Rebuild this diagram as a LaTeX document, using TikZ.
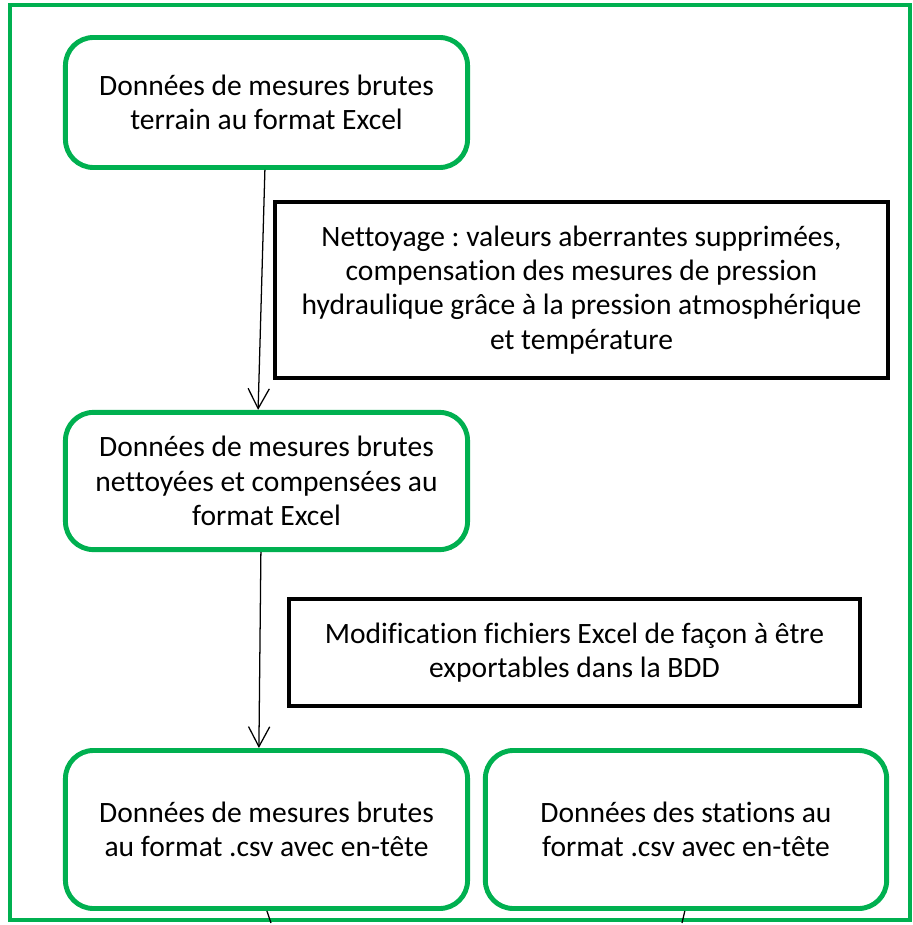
\documentclass[tikz,border=0pt]{standalone}
\usepackage{fontspec}
\setmainfont{Carlito}[Ligatures={NoCommon}]
\frenchspacing
\usetikzlibrary{arrows.meta}
\definecolor{officegreen}{RGB}{0,176,80}

\begin{document}
\begin{tikzpicture}[x=0.025cm,y=-0.025cm,
  every node/.style={font=\fontsize{21}{24.3}\selectfont,align=center},
  databox/.style={draw=officegreen,line width=3.5pt,rounded corners=0.7cm,inner sep=0pt,minimum width=10.05cm},
  notebox/.style={draw=black,line width=2.8pt,inner sep=0pt},
  flow/.style={-{Straight Barb[length=0.5cm,width=0.53cm]},line width=0.9pt}]
                \useasboundingbox (0,0) rectangle (912,925);
                \draw[officegreen,line width=2.8pt] (10,5) rectangle (910,920);
                % data boxes
                \node[databox,minimum height=3.25cm] (raw) at (266.5,102.5)
                    {Données de mesures brutes\\terrain au format Excel};
                \node[databox,minimum height=3.43cm] (clean) at (266.5,481)
                    {Données de mesures brutes\\nettoyées et compensées au\\format Excel};
                \node[databox,minimum height=3.95cm] (csvraw) at (266.5,829.5)
                    {Données de mesures brutes\\au format .csv avec en-tête};
                \node[databox,minimum height=3.95cm,minimum width=10.03cm] (stations) at (686,829.5)
                    {Données des stations au\\format .csv avec en-tête};
                % processing notes
                \node[notebox,minimum width=15.33cm,minimum height=4.4cm] (cleaning) at (581.5,290)
                    {Nettoyage : valeurs aberrantes supprimées,\\compensation des mesures de pression\\hydraulique grâce à la pression atmosphérique\\et température};
                \node[notebox,minimum width=14.28cm,minimum height=2.68cm] (export) at (574.5,652.5)
                    {Modification fichiers Excel de façon à être\\exportables dans la BDD};
                % connectors
                \draw[flow] ([xshift=-0.04cm]raw.south) -- ([xshift=-0.21cm]clean.north);
                \draw[flow] ([xshift=-0.14cm]clean.south) -- ([xshift=-0.19cm]csvraw.north);
                \coordinate (rawout) at (271,923);
                \coordinate (stationsout) at (682,923);
                \draw[line width=0.9pt] ([xshift=0.01cm]csvraw.south) -- (rawout);
                \draw[line width=0.9pt] ([xshift=-0.03cm]stations.south) -- (stationsout);
            \end{tikzpicture}
\end{document}
